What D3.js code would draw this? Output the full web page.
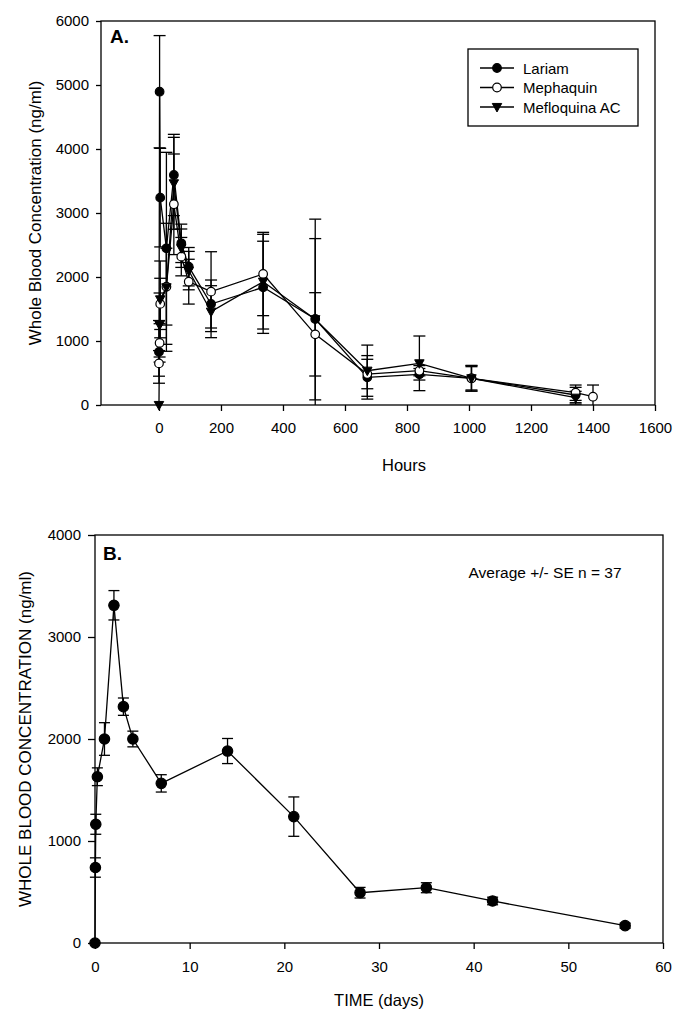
<!DOCTYPE html>
<html><head><meta charset="utf-8">
<script src="https://cdn.jsdelivr.net/npm/d3@7"></script>
<style>
body{margin:0;background:#fff;}
svg{display:block;font-family:"Liberation Sans",Arial,sans-serif;}
</style></head>
<body><svg id="c" width="685" height="1026"></svg>
<script>
// ---------- Panel A data (hours, ng/ml, error) ----------
const lariamHours = [0, 2, 4, 24, 48, 72, 96, 168, 336, 504, 672, 840, 1008, 1344];
const lariamValues = [830, 4895, 3240, 2448, 3594, 2526, 2161, 1578, 1839, 1344, 432, 480, 417, 156];
const lariamErr = [490, 877, 770, 1500, 635, 300, 300, 375, 720, 1560, 340, 90, 182, 120];

const mephaquinHours = [0, 2, 4, 24, 48, 72, 96, 168, 336, 504, 672, 840, 1008, 1344, 1400];
const mephaquinValues = [650, 970, 1580, 1849, 3136, 2318, 1927, 1771, 2047, 1104, 484, 536, 417, 192, 130];
const mephaquinErr = [200, 300, 400, 600, 786, 300, 350, 624, 651, 651, 230, 80, 200, 120, 182];

const mefloquinaHours = [0, 2, 4, 24, 48, 72, 96, 168, 336, 504, 672, 840, 1008, 1344];
const mefloquinaValues = [0, 1250, 1650, 1839, 3464, 2450, 2100, 1458, 1927, 1340, 536, 651, 417, 114];
const mefloquinaErr = [0, 500, 600, 1000, 718, 300, 300, 406, 740, 1260, 400, 427, 200, 100];

const seriesNames = ["Lariam", "Mephaquin", "Mefloquina AC"];
const hoursTicks = [0, 200, 400, 600, 800, 1000, 1200, 1400, 1600];
const concTicksA = [0, 1000, 2000, 3000, 4000, 5000, 6000];

// ---------- Panel B data (days, ng/ml, SE) ----------
const days = [0, 0.042, 0.083, 0.25, 1, 2, 3, 4, 7, 14, 21, 28, 35, 42, 56];
const avgValues = [0, 740, 1164, 1630, 2000, 3311, 2317, 2000, 1565, 1882, 1239, 493, 542, 412, 170];
const avgSE = [0, 95, 98, 87, 160, 144, 85, 77, 85, 123, 193, 52, 49, 37, 25];
const dayTicks = [0, 10, 20, 30, 40, 50, 60];
const concTicksB = [0, 1000, 2000, 3000, 4000];

const svg = d3.select("#c");
const SW = 1.3;
const TICK_FS = 15;

function frame(g, x, y) {
  const [x0, x1] = x.range(), [y0, y1] = y.range();
  g.append("rect").attr("x", x0).attr("y", y1).attr("width", x1 - x0).attr("height", y0 - y1)
    .attr("fill", "none").attr("stroke", "#000").attr("stroke-width", SW);
}

function styleAxis(sel, fs) {
  sel.selectAll("path").remove();
  sel.selectAll("line").attr("stroke", "#000").attr("stroke-width", SW);
  sel.selectAll("text").attr("font-size", fs).attr("fill", "#000")
    .attr("font-family", "'Liberation Sans', Arial, sans-serif");
}

function marker(g, shape, cx, cy, r) {
  if (shape === "tri") {
    const h = r * 1.1;
    g.append("path").attr("d", `M${cx - h},${cy - h * 0.75}L${cx + h},${cy - h * 0.75}L${cx},${cy + h * 1.05}Z`)
      .attr("fill", "#000").attr("stroke", "#000").attr("stroke-width", 1);
  } else {
    g.append("circle").attr("cx", cx).attr("cy", cy).attr("r", r)
      .attr("fill", shape === "open" ? "#fff" : "#000").attr("stroke", "#000").attr("stroke-width", 1.2);
  }
}

// ================= PANEL A =================
const xA = d3.scaleLinear().domain([-187, 1600]).range([101, 655]);
const yA = d3.scaleLinear().domain([0, 6000]).range([405, 21]);
const gA = svg.append("g");

gA.append("g").attr("transform", `translate(0,${yA(0)})`)
  .call(d3.axisBottom(xA).tickValues(hoursTicks).tickSize(6).tickPadding(11).tickFormat(d3.format("d")))
  .call(s => styleAxis(s, TICK_FS));
gA.append("g").attr("transform", `translate(${xA.range()[0]},0)`)
  .call(d3.axisLeft(yA).tickValues(concTicksA).tickSize(5).tickPadding(7).tickFormat(d3.format("d")))
  .call(s => styleAxis(s, TICK_FS));
frame(gA, xA, yA);

const seriesA = [
  {name: seriesNames[0], t: lariamHours, v: lariamValues, e: lariamErr, shape: "filled"},
  {name: seriesNames[1], t: mephaquinHours, v: mephaquinValues, e: mephaquinErr, shape: "open"},
  {name: seriesNames[2], t: mefloquinaHours, v: mefloquinaValues, e: mefloquinaErr, shape: "tri"}
];
const lineA = d3.line().x(d => xA(d[0])).y(d => yA(d[1]));
seriesA.forEach(s => {
  const pts = s.t.map((t, i) => [t, s.v[i], s.e[i]]);
  pts.forEach(p => {
    if (!p[2]) return;
    const cx = xA(p[0]);
    const top = yA(p[1] + p[2]);
    const lo = yA(Math.max(0, p[1] - p[2]));
    gA.append("line").attr("x1", cx).attr("x2", cx).attr("y1", top).attr("y2", lo).attr("stroke", "#000").attr("stroke-width", SW);
    gA.append("line").attr("x1", cx - 6).attr("x2", cx + 6).attr("y1", top).attr("y2", top).attr("stroke", "#000").attr("stroke-width", SW);
    if (p[1] - p[2] > 0)
      gA.append("line").attr("x1", cx - 6).attr("x2", cx + 6).attr("y1", lo).attr("y2", lo).attr("stroke", "#000").attr("stroke-width", SW);
  });
  gA.append("path").datum(pts).attr("d", lineA).attr("fill", "none").attr("stroke", "#000").attr("stroke-width", SW);
});
seriesA.forEach(s => {
  s.t.forEach((t, i) => marker(gA, s.shape, xA(t), yA(s.v[i]), 4.3));
});

gA.append("text").attr("x", 110).attr("y", 43).attr("font-size", 19).attr("font-weight", "bold").text("A.");
gA.append("text").attr("x", 404).attr("y", 471).attr("text-anchor", "middle").attr("font-size", 16.5).text("Hours");
gA.append("text").attr("transform", `translate(41,${(21 + 405) / 2}) rotate(-90)`).attr("text-anchor", "middle")
  .attr("font-size", 17).text("Whole Blood Concentration (ng/ml)");

// legend
const lg = gA.append("g");
lg.append("rect").attr("x", 468).attr("y", 49).attr("width", 170).attr("height", 77)
  .attr("fill", "#fff").attr("stroke", "#000").attr("stroke-width", SW);
seriesA.forEach((s, i) => {
  const yy = 68 + i * 19.5;
  lg.append("line").attr("x1", 480).attr("x2", 514).attr("y1", yy).attr("y2", yy).attr("stroke", "#000").attr("stroke-width", SW);
  marker(lg, s.shape, 497, yy, 4.3);
  lg.append("text").attr("x", 523).attr("y", yy + 5.5).attr("font-size", 15).text(s.name);
});

// ================= PANEL B =================
const xB = d3.scaleLinear().domain([0, 60]).range([95, 663]);
const yB = d3.scaleLinear().domain([0, 4000]).range([943, 535]);
const gB = svg.append("g");

gB.append("g").attr("transform", `translate(0,${yB(0)})`)
  .call(d3.axisBottom(xB).tickValues(dayTicks).tickSize(6).tickPadding(12).tickFormat(d3.format("d")))
  .call(s => styleAxis(s, TICK_FS));
gB.append("g").attr("transform", `translate(${xB.range()[0]},0)`)
  .call(d3.axisLeft(yB).tickValues(concTicksB).tickSize(7).tickPadding(7).tickFormat(d3.format("d")))
  .call(s => styleAxis(s, TICK_FS));
frame(gB, xB, yB);

const ptsB = days.map((d, i) => [d, avgValues[i], avgSE[i]]);
ptsB.forEach(p => {
  if (!p[2]) return;
  const cx = xB(p[0]), top = yB(p[1] + p[2]), lo = yB(p[1] - p[2]);
  gB.append("line").attr("x1", cx).attr("x2", cx).attr("y1", top).attr("y2", lo).attr("stroke", "#000").attr("stroke-width", SW);
  [top, lo].forEach(yy => gB.append("line").attr("x1", cx - 5.5).attr("x2", cx + 5.5).attr("y1", yy).attr("y2", yy)
    .attr("stroke", "#000").attr("stroke-width", SW));
});
gB.append("path").datum(ptsB).attr("d", d3.line().x(d => xB(d[0])).y(d => yB(d[1])))
  .attr("fill", "none").attr("stroke", "#000").attr("stroke-width", SW);
ptsB.forEach(p => marker(gB, "filled", xB(p[0]), yB(p[1]), 5.2));

gB.append("text").attr("x", 103).attr("y", 560).attr("font-size", 19).attr("font-weight", "bold").text("B.");
gB.append("text").attr("x", 545).attr("y", 578).attr("text-anchor", "middle").attr("font-size", 15.5).text("Average +/- SE n = 37");
gB.append("text").attr("x", 379).attr("y", 1006).attr("text-anchor", "middle").attr("font-size", 16.5).text("TIME (days)");
gB.append("text").attr("transform", `translate(31,${(535 + 943) / 2}) rotate(-90)`).attr("text-anchor", "middle")
  .attr("font-size", 17).text("WHOLE BLOOD CONCENTRATION (ng/ml)");
</script>
</body></html>
